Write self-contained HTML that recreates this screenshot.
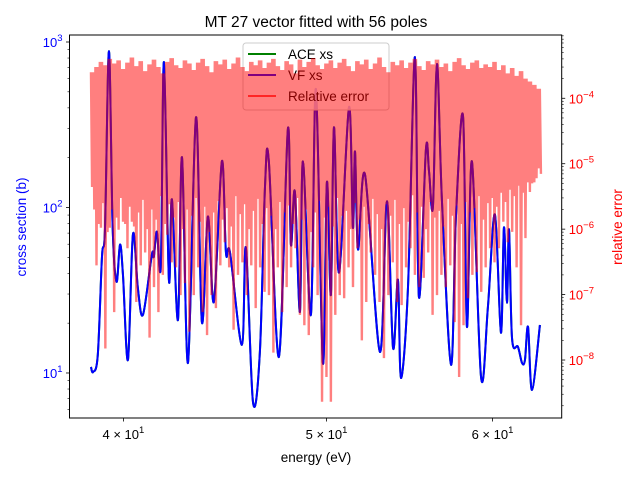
<!DOCTYPE html>
<html><head><meta charset="utf-8">
<style>
html,body{margin:0;padding:0;background:#fff;}
svg{display:block;font-family:"Liberation Sans","DejaVu Sans",sans-serif;}
</style></head>
<body>
<svg id="chart" width="640" height="480" viewBox="0 0 640 480" xmlns="http://www.w3.org/2000/svg">
<rect width="640" height="480" fill="#fff"/>
<text x="316" y="27" text-anchor="middle" font-size="15.5" fill="#000">MT 27 vector fitted with 56 poles</text>
<text x="316" y="462" text-anchor="middle" font-size="13.5" fill="#000">energy (eV)</text>
<text transform="translate(26,227) rotate(-90)" text-anchor="middle" font-size="13.5" fill="#0000ff">cross section (b)</text>
<text transform="translate(622,227) rotate(-90)" text-anchor="middle" font-size="13.5" fill="#ff0000">relative error</text>
<g id="axes"></g>
<g id="series"></g>
<g id="legend">
  <rect x="243" y="43" width="146" height="67" rx="3" fill="#fff" fill-opacity="0.8" stroke="#cccccc"/>
  <line x1="248" y1="54" x2="276" y2="54" stroke="#008000" stroke-width="2"/>
  <text x="288" y="59" font-size="13.5" fill="#000">ACE xs</text>
  <line x1="248" y1="75" x2="276" y2="75" stroke="#0000ff" stroke-width="2"/>
  <text x="288" y="80" font-size="13.5" fill="#000">VF xs</text>
  <line x1="248" y1="96" x2="276" y2="96" stroke="#ff0000" stroke-opacity="0.7" stroke-width="2"/>
  <text x="288" y="101" font-size="13.5" fill="#000">Relative error</text>
</g>
<g id="errlayer"></g>
<rect x="69.5" y="35" width="492.2" height="383" fill="none" stroke="#000" stroke-width="1"/>
</svg>
<script>
// ---- data ----
const xsEnergy=[38.60,38.69,38.89,39.07,39.20,39.37,39.53,39.70,39.85,39.98,40.20,40.42,40.64,40.87,41.27,41.36,41.50,41.68,41.82,42.05,42.19,42.47,42.66,42.94,43.32,43.60,43.89,44.18,44.57,44.77,44.97,45.56,45.76,46.12,46.47,46.73,46.93,47.45,47.92,48.08,48.29,48.56,48.72,49.15,49.42,49.80,50.02,50.24,50.41,50.69,51.25,51.47,51.59,51.76,52.16,53.02,53.43,53.79,54.08,54.26,54.68,55.10,55.34,55.77,55.96,56.20,56.45,56.76,57.33,57.64,58.09,58.34,58.66,59.25,59.70,60.16,60.56,60.76,60.96,61.10,61.30,61.70,61.98,62.18,62.39,62.66,63.21];
const xsValues=[10.87,10.14,12.85,50.5,75.7,881,75.7,35.6,59.7,39.3,11.99,68.6,32.7,22.5,51.9,50.5,71.5,45.1,756,36.6,111.8,20.9,201,11.5,351,20.4,88.2,26.9,190,53.4,53.4,14.8,57.2,6.67,13.4,132,190,12.5,297,59.7,125,23.4,190,22.5,519,11.5,142,29.7,305,40.4,404,75.7,218,55.7,158,13.4,109,14.2,36.6,9.33,32.7,811,28.9,225,165,101,736,109,11.2,88.2,356,19.0,190,9.46,25.1,90.7,17.5,75.7,26.6,73.6,16.3,14.4,11.5,12.0,19.0,7.89,19.5];
const errEnergyRange=[38.60,63.28];
const errTop=[2.5e-4,3.0e-4,3.6e-4,3.2e-4,4.0e-4,3.4e-4,3.8e-4,2.8e-4,3.5e-4,4.2e-4,
3.1e-4,3.7e-4,2.6e-4,3.3e-4,3.9e-4,3.0e-4,2.4e-4,3.6e-4,4.1e-4,3.2e-4,
2.9e-4,3.8e-4,3.4e-4,2.7e-4,3.5e-4,4.0e-4,3.1e-4,2.5e-4,3.7e-4,3.3e-4,
3.9e-4,2.8e-4,3.4e-4,4.2e-4,3.0e-4,2.6e-4,3.6e-4,3.2e-4,3.8e-4,2.9e-4,
3.5e-4,4.0e-4,3.1e-4,2.7e-4,3.7e-4,3.3e-4,2.4e-4,3.9e-4,3.0e-4,3.6e-4,
4.1e-4,3.2e-4,2.8e-4,3.4e-4,3.8e-4,2.9e-4,3.5e-4,4.0e-4,3.1e-4,2.6e-4,
3.7e-4,3.3e-4,3.9e-4,2.8e-4,3.4e-4,4.2e-4,3.0e-4,2.5e-4,3.6e-4,3.2e-4,
3.8e-4,2.9e-4,3.5e-4,4.0e-4,3.1e-4,2.7e-4,3.7e-4,3.3e-4,3.9e-4,3.0e-4,
3.4e-4,2.6e-4,3.6e-4,4.1e-4,3.2e-4,2.8e-4,3.5e-4,3.8e-4,2.9e-4,3.3e-4,
3.0e-4,3.6e-4,2.7e-4,3.2e-4,2.4e-4,2.9e-4,2.2e-4,2.6e-4,2.0e-4,1.8e-4,1.6e-4,1.4e-4];
const errDeep=[4.4e-6,2.8e-7,1.05e-6,1.5e-8,1.05e-6,5.4e-8,9.8e-7,1.3e-6,5.1e-7,1.3e-6,7.7e-8,2.8e-7,4.4e-7,2.2e-8,1.3e-7,5.4e-8,2.0e-7,8.2e-7,3.1e-7,2.6e-7,9.8e-8,1.5e-7,2.7e-8,9.8e-8,2.6e-7,5.4e-8,2.4e-8,9.8e-8,6.2e-8,2.8e-7,6.3e-7,2.6e-7,2.9e-8,2.0e-7,3.1e-7,9.8e-8,2.8e-7,6.2e-8,2.6e-7,1.1e-7,9.8e-8,1.3e-8,2.6e-7,5.4e-8,1.3e-7,2.6e-7,5.1e-7,4.9e-8,3.4e-8,2.4e-8,2.6e-7,9.8e-8,2.3e-9,
5.5e-9,2.3e-9,4.9e-8,9.8e-8,8.8e-8,2.6e-7,1.3e-7,5.1e-7,2.0e-8,7.7e-8,4.4e-7,2.0e-7,7.7e-8,1.07e-8,9.8e-8,3.1e-7,7.7e-8,6.9e-8,2.6e-7,5.1e-7,2.0e-7,1.3e-7,1.8e-7,4.4e-7,4.9e-8,9.8e-8,2.0e-7,1.3e-7,2.8e-7,3.8e-8,5.5e-9,3.4e-8,8.8e-8,2.0e-7,2.2e-7,1.1e-7,2.6e-7,5.1e-7,3.1e-7,5.1e-7,1.3e-6,6.3e-7,9.1e-7,2.6e-7,3.4e-8,7.3e-7,3.7e-6,5.2e-6,8.5e-6];
const errMid=[2e-6,1.2e-6,2.5e-6,9e-7,2e-6,1.5e-6,3e-6,1.2e-6,2.2e-6,1.1e-6,
1.8e-6,2.8e-6,1.0e-6,2.0e-6,1.4e-6,3.2e-6,1.2e-6,2.4e-6,1.5e-6,2.6e-6,
1.0e-6,2.0e-6,1.6e-6,3.0e-6,1.3e-6,2.2e-6,9e-7,1.8e-6,2.7e-6,1.4e-6,
2.1e-6,1.1e-6,3.2e-6,1.7e-6,2.4e-6,1.0e-6,1.9e-6,2.9e-6,1.2e-6,2.1e-6,
1.6e-6,1.0e-6,2.6e-6,1.8e-6,2.3e-6,1.2e-6,3.0e-6,1.4e-6,2.0e-6,9e-7,
1.8e-6,2.7e-6,1.5e-6,2.2e-6,1.1e-6,3.0e-6,1.6e-6,1.9e-6,1.0e-6,2.5e-6,
1.4e-6,2.2e-6,1.2e-6,2.9e-6,1.7e-6,1.0e-6,2.4e-6,1.6e-6,2.8e-6,1.2e-6,
2.1e-6,1.3e-6,3.3e-6,1.8e-6,2.2e-6,1.0e-6,2.6e-6,1.5e-6,1.9e-6,1.1e-6,
2.9e-6,1.6e-6,2.3e-6,1.2e-6,2.6e-6,1.8e-6,2.1e-6,3.2e-6,1.4e-6,2.5e-6,
3.0e-6,2.2e-6,3.6e-6,2.6e-6,4.0e-6,3.2e-6,4.6e-6,3.6e-6,5.2e-6,5.0e-6,6.0e-6,7.0e-6];
const xTickValues=[40,50,60];
const xTickMantissa=["4","5","6"];
const yTickValues=[10,100,1000];
const yTickExp=["1","2","3"];
const y2TickValues=[1e-4,1e-5,1e-6,1e-7,1e-8];
const y2TickExp=["\u22124","\u22125","\u22126","\u22127","\u22128"];

// ---- scales ----
const X0=69.5,X1=561.7,Y0=35,Y1=418;
const xDom=[Math.log10(37.70),Math.log10(64.74)];
const yDom=[0.728,3.0423];
const y2Dom=[-8.886,-3.033];
function xS(e){return X0+(Math.log10(e)-xDom[0])/(xDom[1]-xDom[0])*(X1-X0);}
function yS(v){return Y1-(Math.log10(v)-yDom[0])/(yDom[1]-yDom[0])*(Y1-Y0);}
function y2S(v){return Y1-(Math.log10(v)-y2Dom[0])/(y2Dom[1]-y2Dom[0])*(Y1-Y0);}
const NS="http://www.w3.org/2000/svg";
function mk(tag,attrs,parent){const el=document.createElementNS(NS,tag);for(const k in attrs)el.setAttribute(k,attrs[k]);parent.appendChild(el);return el;}

const axes=document.getElementById('axes');
xTickValues.forEach((v,i)=>{
  const x=xS(v);
  const t=mk('line',{x1:x,y1:Y1,x2:x,y2:Y1+3.5,stroke:'#000','stroke-width':0.8},axes);
  
  
  const tx=mk('text',{x:x,y:Y1+21,'text-anchor':'middle','font-size':13,fill:'#000'},axes);
  
  
  tx.innerHTML=xTickMantissa[i]+' \u00d7 10<tspan dy="-6" font-size="9.5">1</tspan>';
});
for(let d=0;d<=3;d++){
  for(let m=1;m<=9;m++){
    const v=m*Math.pow(10,d);
    const y=yS(v);
    if(y<Y0-0.5||y>Y1+0.5)continue;
    const t=mk('line',{x1:X0,y1:y,x2:X0-(m===1?3.5:2),y2:y,stroke:'#000','stroke-width':m===1?0.8:0.6},axes);
    
    
  }
}
yTickValues.forEach((v,i)=>{
  const tx=mk('text',{x:X0-7,y:yS(v)+5,'text-anchor':'end','font-size':13,fill:'#0000ff'},axes);
  
  
  tx.innerHTML='10<tspan dy="-6" font-size="9.5">'+yTickExp[i]+'</tspan>';
});
for(let d=-9;d<=-3;d++){
  for(let m=1;m<=9;m++){
    const v=m*Math.pow(10,d);
    const y=y2S(v);
    if(y<Y0-0.5||y>Y1+0.5)continue;
    const t=mk('line',{x1:X1,y1:y,x2:X1+(m===1?3.5:2),y2:y,stroke:'#000','stroke-width':m===1?0.8:0.6},axes);
    
    
  }
}
y2TickValues.forEach((v,i)=>{
  const tx=mk('text',{x:X1+7,y:y2S(v)+5,'text-anchor':'start','font-size':13,fill:'#ff0000'},axes);
  
  
  tx.innerHTML='10<tspan dy="-6" font-size="9.5">'+y2TickExp[i]+'</tspan>';
});

// smooth path (Catmull-Rom) through pixel points
function smoothPath(p){
  let d='M'+p[0][0].toFixed(2)+','+p[0][1].toFixed(2);
  for(let i=0;i<p.length-1;i++){
    const a=p[Math.max(0,i-1)],b=p[i],c=p[i+1],e=p[Math.min(p.length-1,i+2)];
    const c1x=b[0]+(c[0]-a[0])/6,c1y=b[1]+(c[1]-a[1])/6;
    const c2x=c[0]-(e[0]-b[0])/6,c2y=c[1]-(e[1]-b[1])/6;
    d+=' C'+c1x.toFixed(2)+','+c1y.toFixed(2)+' '+c2x.toFixed(2)+','+c2y.toFixed(2)+' '+c[0].toFixed(2)+','+c[1].toFixed(2);
  }
  return d;
}
const series=document.getElementById('series');
const pxy=xsEnergy.map((e,i)=>[xS(e),yS(xsValues[i])]);
const dPath=smoothPath(pxy);
const ace=mk('path',{d:dPath,fill:'none',stroke:'#008000','stroke-width':2,'stroke-linejoin':'round'},series);


const vf=mk('path',{d:dPath,fill:'none',stroke:'#0000ff','stroke-width':2,'stroke-linejoin':'round'},series);



// relative error
const errLayer=document.getElementById('errlayer');
const seq=[];
for(let i=0;i<errTop.length;i++){seq.push(errTop[i],errDeep[i],errTop[i],errMid[i]);}
const lA=Math.log10(errEnergyRange[0]),lB=Math.log10(errEnergyRange[1]);
const epts=seq.map((v,j)=>{const e=Math.pow(10,lA+(lB-lA)*j/(seq.length-1));return xS(e).toFixed(2)+','+y2S(v).toFixed(2);}).join(' ');
const err=mk('polyline',{points:epts,fill:'none',stroke:'#ff0000','stroke-opacity':0.5,'stroke-width':2.4,'stroke-linejoin':'bevel'},errLayer);


</script>
</body></html>
